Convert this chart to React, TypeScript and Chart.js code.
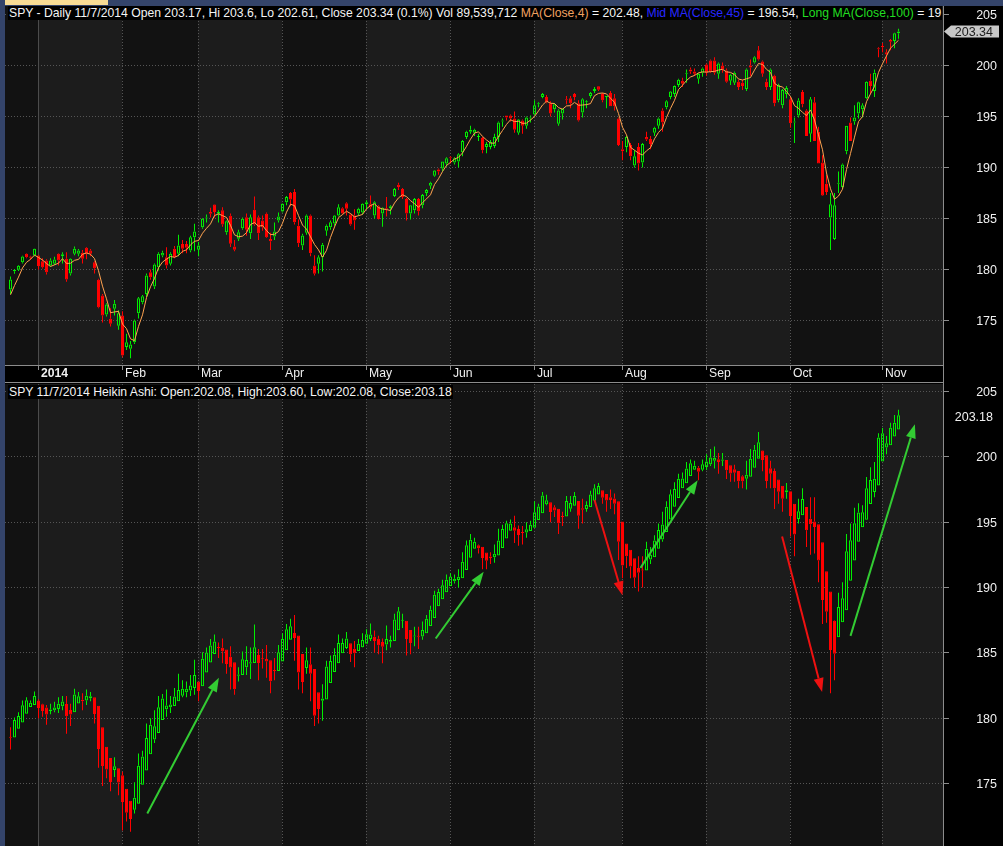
import { useEffect, useRef } from "react";
import Chart from "chart.js/auto";

// SPY daily bars, 20 Dec 2013 .. 7 Nov 2014
const opens = [
  178.04, 179.84, 179.97, 180.72, 181.54, 181.27, 181.37, 181.37, 180.8, 180.88,
  180.39, 180.56, 181.54, 181.3, 181.05, 179.6, 181.54, 181.54, 181.63, 182.12,
  181.86, 180.72, 178.99, 177.45, 175.59, 175.16, 176.14, 174.48, 175.49, 172.39,
  172.22, 172.87, 175.72, 176.8, 177.6, 179.74, 178.33, 180.23, 181.37, 181.21,
  180.56, 182.03, 181.54, 182.5, 182.5, 181.86, 183.17, 181.93, 184.15, 185.0,
  185.63, 186.37, 185.47, 185.8, 183.66, 185.26, 182.26, 183.01, 184.05, 185.13,
  183.56, 185.85, 185.13, 184.8, 185.46, 183.0, 183.23, 184.8, 185.69, 186.6,
  187.5, 187.6, 184.3, 182.35, 183.6, 185.3, 180.39, 180.56, 181.2, 183.8,
  184.15, 184.5, 185.3, 186.0, 186.5, 185.4, 185.3, 185.5, 185.6, 186.4,
  186.4, 185.3, 186.2, 185.5, 186.0, 186.0, 187.2, 188.3, 187.9, 186.9,
  185.5, 185.8, 186.9, 186.3, 187.5, 188.2, 189.2, 189.8, 189.9, 190.4,
  191.0, 190.5, 190.6, 191.5, 193.0, 193.5, 193.4, 193.0, 192.9, 192.0,
  192.0, 192.1, 193.0, 194.5, 195.1, 195.1, 194.8, 193.4, 194.6, 194.1,
  194.8, 195.2, 196.2, 196.9, 196.9, 196.3, 195.7, 194.3, 195.3, 196.7,
  196.8, 197.2, 196.3, 195.4, 196.4, 197.0, 197.5, 197.97, 197.2, 196.9,
  197.3, 196.8, 194.8, 191.8, 192.0, 192.2, 190.2, 192.0, 190.5, 193.0,
  192.8, 193.4, 194.1, 195.6, 195.9, 196.9, 197.2, 198.1, 198.5, 199.2,
  199.6, 199.4, 198.7, 199.3, 200.1, 200.5, 200.5, 199.2, 200.0, 199.5,
  198.5, 198.3, 198.4, 198.3, 197.7, 200.0, 200.3, 201.5, 200.4, 198.4,
  197.9, 199.0, 196.6, 196.1, 197.2, 196.7, 194.4, 195.1, 197.4, 195.6,
  193.3, 196.4, 193.5, 190.5, 188.4, 185.1, 183.0, 188.4, 188.1, 191.6,
  194.4, 194.5, 195.3, 195.7, 196.8, 198.5, 197.5, 201.7, 201.9, 201.3,
  202.5, 202.4, 203.17,
];
const highs = [
  179.31, 180.06, 180.45, 181.35, 181.6, 181.35, 182.05, 181.45, 181.1, 181.0,
  181.1, 181.25, 181.6, 181.7, 181.7, 181.1, 182.25, 182.0, 181.9, 182.2,
  182.0, 180.8, 179.1, 177.6, 176.7, 176.2, 177.0, 176.0, 175.9, 173.7,
  173.0, 175.1, 177.3, 177.5, 179.6, 180.0, 180.6, 181.7, 181.85, 182.19,
  181.7, 182.3, 183.4, 182.9, 182.8, 183.3, 184.48, 182.7, 185.05, 185.4,
  186.05, 186.4, 185.8, 186.1, 184.8, 185.5, 182.9, 183.9, 185.1, 185.5,
  185.4, 187.16, 185.3, 185.3, 185.6, 183.6, 184.6, 185.6, 186.5, 187.2,
  187.6, 187.9, 184.9, 183.5, 185.4, 185.4, 181.4, 181.4, 182.6, 184.4,
  184.8, 185.35, 186.4, 186.1, 186.6, 185.5, 185.9, 186.05, 186.5, 186.8,
  187.25, 186.7, 186.3, 186.1, 187.1, 186.3, 188.0, 188.5, 188.0, 187.0,
  186.3, 187.0, 187.0, 187.4, 187.9, 188.6, 189.75, 189.9, 190.6, 191.0,
  191.1, 191.0, 191.4, 192.7, 193.6, 194.1, 193.8, 193.3, 193.0, 192.5,
  192.7, 193.3, 194.5, 194.8, 195.1, 195.2, 195.5, 194.75, 194.7, 195.0,
  195.1, 196.6, 196.4, 197.3, 197.1, 196.5, 196.3, 195.7, 195.8, 197.0,
  197.0, 197.3, 196.6, 196.8, 196.6, 197.4, 197.9, 198.0, 197.3, 197.0,
  197.5, 197.2, 194.9, 192.6, 193.1, 192.4, 191.7, 192.4, 192.4, 193.5,
  193.1, 194.0, 194.9, 195.8, 196.6, 197.5, 198.05, 198.7, 198.8, 199.6,
  199.8, 199.7, 199.3, 199.8, 200.2, 200.6, 200.8, 200.3, 200.3, 199.7,
  199.2, 199.4, 198.6, 198.6, 199.7, 200.6, 200.9, 201.9, 200.5, 198.7,
  199.7, 199.1, 198.2, 197.7, 198.0, 196.9, 194.9, 196.8, 197.6, 195.7,
  196.9, 196.9, 194.0, 191.2, 189.3, 187.5, 187.5, 189.6, 190.4, 194.1,
  194.9, 196.1, 196.45, 196.3, 198.45, 199.2, 199.6, 201.8, 202.2, 201.6,
  202.6, 203.2, 203.6,
];
const lows = [
  177.6, 179.58, 179.85, 180.6, 181.1, 180.95, 181.3, 180.0, 180.1, 179.5,
  180.3, 180.45, 180.4, 180.6, 178.8, 179.4, 181.4, 181.3, 180.6, 181.0,
  181.3, 179.6, 176.2, 174.8, 175.4, 174.4, 175.5, 174.1, 171.4, 172.1,
  171.3, 172.7, 175.2, 176.6, 177.3, 179.0, 178.1, 179.9, 181.2, 180.1,
  180.4, 181.1, 181.3, 181.6, 181.6, 181.7, 181.8, 181.3, 184.0, 184.6,
  185.1, 185.1, 184.6, 184.2, 183.4, 182.2, 181.8, 182.8, 183.9, 183.3,
  183.0, 184.3, 182.9, 183.8, 183.1, 181.9, 182.9, 184.6, 185.6, 186.3,
  186.2, 184.4, 182.2, 181.9, 183.4, 181.3, 179.4, 179.6, 179.8, 183.3,
  183.9, 184.3, 185.2, 185.4, 185.3, 184.3, 183.9, 185.3, 185.4, 185.9,
  185.9, 185.0, 184.9, 184.2, 185.2, 185.4, 187.1, 187.8, 186.9, 184.8,
  184.9, 185.5, 185.3, 186.0, 187.2, 187.9, 189.1, 189.3, 189.6, 190.1,
  190.4, 190.3, 190.0, 191.1, 192.8, 193.3, 193.1, 192.6, 191.4, 191.4,
  191.8, 191.9, 192.5, 194.0, 194.6, 194.5, 193.4, 193.2, 193.3, 193.8,
  194.4, 195.1, 195.9, 196.8, 196.3, 195.0, 195.4, 194.1, 194.7, 196.2,
  195.8, 196.6, 194.5, 194.9, 195.8, 196.8, 197.3, 197.5, 196.4, 195.8,
  196.0, 195.6, 192.1, 190.7, 191.5, 190.7, 190.0, 189.7, 190.0, 192.6,
  191.8, 193.1, 193.8, 193.5, 195.7, 196.7, 196.9, 197.9, 197.9, 198.3,
  199.2, 199.0, 198.2, 198.9, 199.0, 199.3, 199.1, 198.7, 199.3, 198.3,
  198.1, 198.1, 197.6, 197.6, 197.5, 199.0, 200.2, 200.5, 198.9, 197.6,
  197.6, 196.0, 196.4, 195.8, 196.8, 193.9, 192.4, 194.9, 195.9, 193.1,
  192.5, 192.6, 190.4, 187.2, 187.3, 181.9, 182.9, 187.5, 187.9, 191.3,
  192.6, 194.2, 194.8, 194.9, 196.7, 197.2, 196.9, 200.8, 201.3, 200.2,
  201.5, 201.7, 202.61,
];
const closes = [
  179.02, 179.97, 180.36, 181.27, 181.21, 181.14, 182.03, 180.33, 180.23, 179.74,
  180.88, 180.98, 180.88, 181.5, 179.02, 181.05, 182.03, 181.86, 181.05, 181.54,
  181.54, 180.13, 176.31, 175.49, 176.57, 174.67, 176.63, 175.72, 171.57, 172.87,
  172.65, 175.0, 177.19, 177.38, 179.41, 179.25, 180.49, 181.54, 181.63, 180.4,
  181.54, 181.21, 182.35, 182.03, 182.12, 183.17, 183.73, 182.35, 184.97, 185.1,
  185.46, 185.63, 185.63, 184.41, 184.74, 182.52, 181.93, 183.66, 184.97, 183.89,
  185.13, 184.41, 183.56, 184.15, 183.17, 182.78, 183.73, 185.2, 186.44, 187.1,
  186.87, 184.64, 182.58, 183.33, 185.3, 181.6, 179.58, 181.21, 182.42, 184.3,
  184.64, 185.3, 186.1, 185.5, 185.95, 184.4, 184.8, 185.95, 186.44, 186.6,
  186.1, 186.6, 184.96, 186.05, 185.9, 186.2, 187.9, 188.1, 187.1, 185.5,
  186.3, 186.9, 185.7, 187.3, 187.8, 188.5, 189.7, 189.6, 190.6, 190.9,
  190.9, 190.9, 191.3, 192.6, 193.5, 193.7, 193.7, 193.1, 191.7, 192.3,
  192.5, 193.0, 194.4, 194.6, 194.9, 194.8, 193.7, 194.7, 194.1, 194.9,
  194.9, 196.1, 196.3, 197.2, 196.4, 195.3, 196.2, 195.6, 195.75, 196.6,
  196.3, 196.9, 194.6, 196.7, 196.45, 197.3, 197.7, 197.61, 196.6, 196.95,
  196.0, 196.0, 192.2, 191.6, 193.0, 191.1, 191.1, 190.4, 192.3, 192.75,
  192.3, 193.9, 194.8, 194.4, 196.5, 197.45, 198.0, 198.6, 198.2, 199.3,
  199.4, 199.2, 199.2, 199.7, 199.3, 199.4, 199.3, 200.2, 199.6, 198.4,
  199.1, 199.3, 197.9, 198.0, 199.6, 199.8, 200.8, 200.6, 199.2, 197.9,
  199.6, 196.3, 198.1, 197.6, 197.8, 194.35, 194.5, 196.57, 196.2, 193.1,
  196.7, 192.6, 190.4, 187.25, 187.6, 186.4, 186.3, 188.5, 190.3, 194.1,
  192.6, 194.9, 196.4, 196.1, 198.4, 198.0, 199.3, 201.6, 201.8, 201.07,
  202.34, 203.15, 203.34,
];
// MA(4) values for the first three bars (their closes lie before the chart)
const maLeadIn = [177.52, 178.43, 179.25];

const monthLabels = ["2014", "Feb", "Mar", "Apr", "May", "Jun", "Jul", "Aug", "Sep", "Oct", "Nov"];
const monthStarts = [7, 28, 47, 68, 89, 110, 131, 153, 174, 195, 218];
const priceTicks = [170, 175, 180, 185, 190, 195, 200, 205];

// hand-drawn trend arrows on the Heikin Ashi panel: [bar index, price]
const arrowFrom = [[34.2, 172.7], [106.3, 186.1], [146, 196.7], [157.5, 191.5], [192.9, 193.9], [210, 186.3]];
const arrowTo = [[52.1, 183.1], [118.3, 191.2], [153, 189.4], [171.8, 198.2], [202.9, 182.0], [226.1, 202.5]];
const arrowColors = ["#33cc33", "#33cc33", "#ee1111", "#33cc33", "#ee1111", "#33cc33"];

const GREEN = "#00ee00";
const RED = "#ff0000";
const MA_COLOR = "#ffa350";
const BAND_DARK = "#121212";
const BAND_LIGHT = "#1c1c1c";
const GRID = "#555555";
const AXIS = "#8c8c8c";
const FONT = '"Liberation Sans", Arial, sans-serif';
const X_MIN = -1.375;
const X_MAX = 233.125;

const last = closes.length - 1;

const ma4 = closes.map((_, i) =>
  i < 3 ? maLeadIn[i] : (closes[i] + closes[i - 1] + closes[i - 2] + closes[i - 3]) / 4
);

// Heikin Ashi from the bars above
const haClose = closes.map((c, i) => (opens[i] + highs[i] + lows[i] + c) / 4);
const haOpen: number[] = [];
closes.forEach((c, i) => {
  haOpen.push(i === 0 ? (opens[0] + c) / 2 : (haOpen[i - 1] + haClose[i - 1]) / 2);
});
const haHigh = highs.map((h, i) => Math.max(h, haOpen[i], haClose[i]));
const haLow = lows.map((l, i) => Math.min(l, haOpen[i], haClose[i]));

function candleSets(o: number[], h: number[], l: number[], c: number[]) {
  const up = c.map((v, i) => v >= o[i]);
  const col = (ctx: any) => (up[ctx.dataIndex] ? GREEN : RED);
  const common = {
    type: "bar" as const,
    grouped: false,
    borderSkipped: false,
    inflateAmount: 0,
    order: 2,
  };
  return [
    {
      ...common,
      data: c.map((v, i) => ({ x: i, y: [Math.max(v, o[i]), h[i]] })),
      barThickness: 1,
      backgroundColor: col,
      borderWidth: 0,
    },
    {
      ...common,
      data: c.map((v, i) => ({ x: i, y: [l[i], Math.min(v, o[i])] })),
      barThickness: 1,
      backgroundColor: col,
      borderWidth: 0,
    },
    {
      ...common,
      data: c.map((v, i) => ({ x: i, y: [Math.min(v, o[i]), Math.max(v, o[i])] })),
      barThickness: 3,
      minBarLength: 1,
      backgroundColor: (ctx: any) => (up[ctx.dataIndex] ? "rgba(0,0,0,0)" : RED),
      borderColor: col,
      borderWidth: 1,
    },
  ];
}

const backdrop = {
  id: "backdrop",
  beforeDatasetsDraw(chart: any) {
    const { ctx, chartArea: a } = chart;
    const { x, y } = chart.scales;
    const edges = [a.left, ...monthStarts.map((i) => Math.floor(x.getPixelForValue(i))), a.right];
    ctx.save();
    for (let k = 0; k < edges.length - 1; k++) {
      ctx.fillStyle = k % 2 ? BAND_LIGHT : BAND_DARK;
      ctx.fillRect(edges[k], a.top, edges[k + 1] - edges[k], a.bottom - a.top);
    }
    ctx.lineWidth = 1;
    ctx.strokeStyle = GRID;
    ctx.setLineDash([1, 2]);
    for (const p of priceTicks) {
      const py = Math.floor(y.getPixelForValue(p)) + 0.5;
      if (py < a.top || py > a.bottom) continue;
      ctx.beginPath();
      ctx.moveTo(a.left, py);
      ctx.lineTo(a.right, py);
      ctx.stroke();
    }
    monthStarts.forEach((i, k) => {
      const px = Math.floor(x.getPixelForValue(i)) + 0.5;
      ctx.setLineDash(k === 0 ? [] : [1, 2]);
      ctx.strokeStyle = k === 0 ? "#4c4c4c" : GRID;
      ctx.beginPath();
      ctx.moveTo(px, a.top);
      ctx.lineTo(px, a.bottom);
      ctx.stroke();
    });
    ctx.restore();
  },
};

const priceAxis = {
  id: "priceAxis",
  afterDraw(chart: any) {
    const { ctx, chartArea: a, height } = chart;
    const y = chart.scales.y;
    ctx.save();
    ctx.strokeStyle = AXIS;
    ctx.lineWidth = 1;
    ctx.beginPath();
    ctx.moveTo(a.right + 0.5, 0);
    ctx.lineTo(a.right + 0.5, height);
    ctx.stroke();
    ctx.font = `12.5px ${FONT}`;
    ctx.fillStyle = "#f0f0f0";
    ctx.textAlign = "right";
    ctx.textBaseline = "middle";
    for (const p of priceTicks) {
      const py = Math.floor(y.getPixelForValue(p)) + 0.5;
      if (py < a.top || py > a.bottom) continue;
      ctx.beginPath();
      ctx.moveTo(a.right, py);
      ctx.lineTo(a.right + 6, py);
      ctx.stroke();
      ctx.fillText(String(p), 997, py + 1);
    }
    ctx.restore();
  },
};

const dateStrip = {
  id: "dateStrip",
  afterDraw(chart: any) {
    const { ctx, chartArea: a, height } = chart;
    const x = chart.scales.x;
    ctx.save();
    ctx.strokeStyle = AXIS;
    ctx.lineWidth = 1;
    ctx.beginPath();
    ctx.moveTo(a.left, a.bottom + 0.5);
    ctx.lineTo(a.right, a.bottom + 0.5);
    ctx.moveTo(a.left, height - 0.5);
    ctx.lineTo(a.right, height - 0.5);
    ctx.stroke();
    ctx.fillStyle = "#f0f0f0";
    ctx.textAlign = "left";
    ctx.textBaseline = "middle";
    monthStarts.forEach((i, k) => {
      const px = Math.floor(x.getPixelForValue(i)) + 0.5;
      ctx.beginPath();
      ctx.moveTo(px, a.bottom);
      ctx.lineTo(px, a.bottom + 5);
      ctx.stroke();
      ctx.font = `${k === 0 ? "bold " : ""}12.2px ${FONT}`;
      ctx.fillText(monthLabels[k], px + 2.5, a.bottom + 9);
    });
    ctx.restore();
  },
};

const lastTag = {
  id: "lastTag",
  afterDraw(chart: any) {
    const { ctx, chartArea: a } = chart;
    const py = chart.scales.y.getPixelForValue(closes[last]);
    ctx.save();
    ctx.fillStyle = "#c8c8c8";
    ctx.beginPath();
    ctx.moveTo(a.right + 1, py);
    ctx.lineTo(a.right + 8, py - 6);
    ctx.lineTo(999, py - 6);
    ctx.lineTo(999, py + 6);
    ctx.lineTo(a.right + 8, py + 6);
    ctx.closePath();
    ctx.fill();
    ctx.font = `12.5px ${FONT}`;
    ctx.fillStyle = "#202020";
    ctx.textAlign = "right";
    ctx.textBaseline = "middle";
    ctx.fillText(closes[last].toFixed(2), 993, py + 1);
    ctx.restore();
  },
};

const haTag = {
  id: "haTag",
  afterDraw(chart: any) {
    const { ctx } = chart;
    const py = chart.scales.y.getPixelForValue(haClose[last]);
    ctx.save();
    ctx.font = `12.5px ${FONT}`;
    ctx.fillStyle = "#f0f0f0";
    ctx.textAlign = "right";
    ctx.textBaseline = "middle";
    ctx.fillText(haClose[last].toFixed(2), 993, py + 2);
    ctx.restore();
  },
};

const arrows = {
  id: "arrows",
  afterDatasetsDraw(chart: any) {
    const { ctx, chartArea: a } = chart;
    const { x, y } = chart.scales;
    ctx.save();
    ctx.beginPath();
    ctx.rect(a.left, a.top, a.right - a.left, a.bottom - a.top);
    ctx.clip();
    arrowFrom.forEach((f, k) => {
      const t = arrowTo[k];
      const x0 = x.getPixelForValue(f[0]);
      const y0 = y.getPixelForValue(f[1]);
      const x1 = x.getPixelForValue(t[0]);
      const y1 = y.getPixelForValue(t[1]);
      const ang = Math.atan2(y1 - y0, x1 - x0);
      const head = 14;
      const half = 5;
      const bx = x1 - head * Math.cos(ang);
      const by = y1 - head * Math.sin(ang);
      ctx.strokeStyle = arrowColors[k];
      ctx.fillStyle = arrowColors[k];
      ctx.lineWidth = 2;
      ctx.beginPath();
      ctx.moveTo(x0, y0);
      ctx.lineTo(bx, by);
      ctx.stroke();
      ctx.beginPath();
      ctx.moveTo(x1, y1);
      ctx.lineTo(bx + half * Math.sin(ang), by - half * Math.cos(ang));
      ctx.lineTo(bx - half * Math.sin(ang), by + half * Math.cos(ang));
      ctx.closePath();
      ctx.fill();
    });
    ctx.restore();
  },
};

function panelOptions(padding: any, yMin: number, yMax: number) {
  return {
    responsive: false,
    animation: false as const,
    devicePixelRatio: 1,
    events: [],
    layout: { padding },
    plugins: {
      legend: { display: false },
      tooltip: { enabled: false },
    },
    scales: {
      x: { type: "linear" as const, display: false, min: X_MIN, max: X_MAX, offset: false },
      y: { type: "linear" as const, display: false, min: yMin, max: yMax, beginAtZero: false },
    },
  };
}

export default function App() {
  const topRef = useRef<HTMLCanvasElement | null>(null);
  const bottomRef = useRef<HTMLCanvasElement | null>(null);

  useEffect(() => {
    if (!topRef.current || !bottomRef.current) return;

    const top = new Chart(topRef.current, {
      type: "bar",
      data: {
        datasets: [
          ...candleSets(opens, highs, lows, closes),
          {
            type: "line" as const,
            data: ma4.map((v, i) => ({ x: i, y: v })),
            borderColor: MA_COLOR,
            borderWidth: 1,
            pointRadius: 0,
            tension: 0,
            order: 1,
          },
        ] as any,
      },
      options: panelOptions({ left: 5, right: 60, top: 6, bottom: 18 }, 170.637, 205.833) as any,
      plugins: [backdrop, priceAxis, dateStrip, lastTag],
    });

    const bottom = new Chart(bottomRef.current, {
      type: "bar",
      data: { datasets: candleSets(haOpen, haHigh, haLow, haClose) as any },
      options: panelOptions({ left: 5, right: 60, top: 1, bottom: 0 }, 170.217, 205.574) as any,
      plugins: [backdrop, priceAxis, haTag, arrows],
    });

    return () => {
      top.destroy();
      bottom.destroy();
    };
  }, []);

  const headerStyle: React.CSSProperties = {
    position: "absolute",
    left: 8,
    height: 14,
    lineHeight: "14px",
    padding: "0 1px",
    background: "#000",
    color: "#f4f4f4",
    font: `12.2px ${FONT}`,
    whiteSpace: "nowrap",
  };

  return (
    <div
      style={{
        position: "fixed",
        left: 0,
        top: 0,
        width: 1003,
        height: 846,
        overflow: "hidden",
        background: "#000",
      }}
    >
      <canvas
        ref={topRef}
        width={1003}
        height={383}
        style={{ position: "absolute", left: 0, top: 0, width: 1003, height: 383, background: "#000" }}
      />
      <canvas
        ref={bottomRef}
        width={1003}
        height={463}
        style={{ position: "absolute", left: 0, top: 383, width: 1003, height: 463, background: "#000" }}
      />
      <div style={{ position: "absolute", left: 0, top: 0, width: 1003, height: 6, background: "#34446a" }} />
      <div style={{ position: "absolute", left: 4, top: 0, width: 104, height: 5, background: "#f8dc95" }} />
      <div style={{ position: "absolute", left: 0, top: 0, width: 5, height: 846, background: "#34446a" }} />
      <div style={{ ...headerStyle, top: 6 }}>
        SPY - Daily 11/7/2014 Open 203.17, Hi 203.6, Lo 202.61, Close 203.34 (0.1%) Vol 89,539,712{" "}
        <span style={{ color: "#f0a060" }}>MA(Close,4)</span> = 202.48,{" "}
        <span style={{ color: "#2828ff" }}>Mid MA(Close,45)</span> = 196.54,{" "}
        <span style={{ color: "#22dd22" }}>Long MA(Close,100)</span> = 19
      </div>
      <div style={{ ...headerStyle, top: 385 }}>
        SPY 11/7/2014 Heikin Ashi: Open:202.08, High:203.60, Low:202.08, Close:203.18
      </div>
    </div>
  );
}
